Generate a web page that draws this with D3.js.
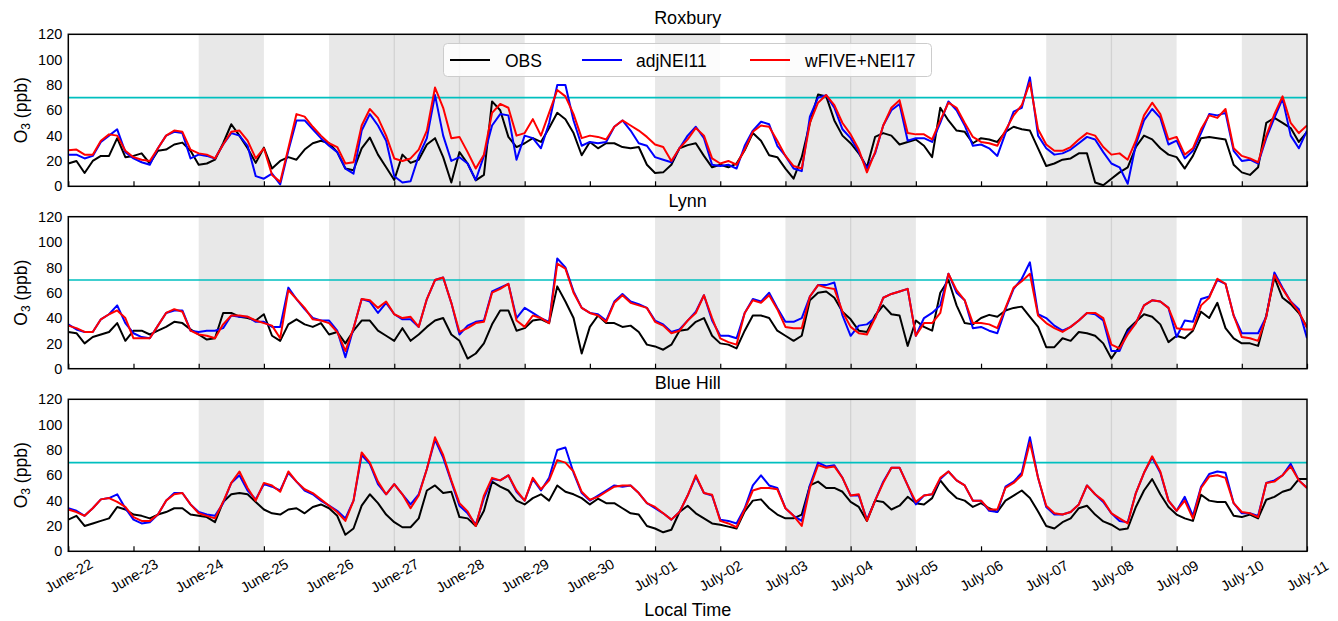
<!DOCTYPE html>
<html><head><meta charset="utf-8">
<script src="https://cdn.jsdelivr.net/npm/d3@7"></script>
<style>body{margin:0;background:#fff}svg{font-family:"Liberation Sans",Arial,Helvetica,sans-serif}</style>
</head><body>
<svg id="chart" width="1338" height="621"></svg>
<script>
// ---------- data (3-hourly values, starting June-22 00:00 local time) ----------
const dayLabels = ["June-22","June-23","June-24","June-25","June-26","June-27","June-28","June-29","June-30",
  "July-01","July-02","July-03","July-04","July-05","July-06","July-07","July-08","July-09","July-10","July-11"];
const shadedDays = [2,4,5,6,9,11,12,15,16,18];
const stepHours = 3;
const yTicks = [0,20,40,60,80,100,120];
const threshold = 70;
const siteNames = ["Roxbury","Lynn","Blue Hill"];
const seriesNames = ["OBS","adjNEI11","wFIVE+NEI17"];

const roxburyOBS = [18,20,10.5,20,24,24,38,23,24,26,18,28,29,33,34.5,28,17,18,21,34,49,40,30,18.5,30.5,14,20,23,21,29,34,36,34,27,14,12.7,30,38.5,25,15,5,25,18.5,21,33,38,23,3,27,
  18,4.7,9,67,60,39,31,34,38,35,46,58,53,42,24.5,35,30,34,34,31,30,31,17,10.5,11,17,30,32.5,34,24,15,17,15,18,28.5,42,36,24.5,23,14,6,23,50,72.5,71,52,40,34,26,15,39,42,40,33,
  35,37,32,23,62,52,44,43,34,38,37,35,43,47,45,44,30,16,18,21,22,26,26,3,0.8,6,11,15,31,40,37,30,25,23,14,24,38,39,38,37,17,11,9,15,50,54,50,46,35,43];
const roxburyAdj = [25,25,22,24,35,40,45,27,22,19,17,30,40,43,42,22,25,24,22,33,42,40,32,8,6,10,1.5,28,52,52,45,38,32,27,14,10,44,57,48,36,8,3,4,24,38,72,40,20,23,
  18,5,24,48,57,56,21,40,38,30,50,80,80,52,32,35,34,35,47,52,44,34,32,23,21,19,30,40,47,38,17,16,17,14,32,44,51,49,32,24,14,12,55,70,72,62,45,38,27,14,26,48,60,65,
  36,38,38,35,50,67,60,48,32,33,30,24,42,59,62,86,40,30,25,26,29,34,39,37,27,18,15,2,33,52,61,54,33,36,22,28,42,57,56,58,28,20,21,18,38,54,69,40,30,44];
const roxburyFive = [28.5,29,25,25,36,41,40,28,23,21,20,30,40,44,43,29,26,25,22,33,43,44,36,22,30,9,3.5,30,57,55,47,40,34,31,18,19,48,61,54,40,22,20,22,29,44,78,62,38,39,
  27,14,25,58,65,62,40,42,53,40,58,76,71,57,38,40,39,37,47,52,48,44,39,33,31,20,30,37,46,40,22,18,20,17,29,43,48,47,36,24,16,14,50,66,72,64,50,41,29,11,27,48,62,68,
  42,41,41,37,52,66,62,50,39,35,34,32,44,56,64,82,45,33,28,28,31,37,42,40,31,25,26,21,36,56,66,57,37,39,25,30,45,56,54,61,30,24,22,19,40,57,71,50,42,48];

const lynnOBS = [29,28,20,25,27,29,36,22,30,30,27,30,33,37,36,31,27,23,24,44,44,41,40,38,43,26,22,35,39,35,33,36,27,29,20,30,38,38,30,26,22,32,22,27,33,38,40,27,22,
  8,12,20,35,46,46,30,32,38,39,36,65,53,40,12,33,42,36,36,33,34,29,19,17.6,15,19,30,31,37,40,26,20,19,16,30,42,42,40,30,26,22,26,54,60,61,56,45,39,30,29,42,50,43,42,
  18,38,33,30,60,70,50,36,35,40,42.5,41,46,48,49,41,33,17,17,24,22,29,28,26,20,8,17.6,31,37,43,41,35,21,26,24,30,45,40,52,32,24,20,20,18,42,72,56,51,44,33];
const lynnAdj = [35,31,29,29,39,43,50,36,28,25,24,34,44,46,46,30,29,30,30,32,42,41,41,37,37,33,33,64,55,47,40,38,38,30,9,32,55,53,44,52,43,39,39,33,55,70,72,52,27,
  34,37,38,61,64,67,40,48,44,40,37,87,80,61,48,44,43,38,53,59,53,51,48,38,35,29,31,38,45,58,38,26,26,24,44,55,53,60,48,37,37,40,57,66,66,68,42,26,34,35,40,56,59,61,
  63,26,40,44,50,75,60,54,32,33,30,28,47,63,71,84,43,40,34,30,33,38,44,43,38,14,14,29,36,50,54,53,48,25,38,37,55,57,70,67,42,28,28,28,41,76,64,53,47,24];
const lynnFive = [34,32,29,29,39,43,46,40,24,24,24,34,44,47,45,30,27,26,24,35,42,42,41,38,36,34,24,62,55,48,39,38,36,29,14,32,55,54,48,53,43,40,41,33,55,70,72,52,29,
  32,36,37,60,63,67,38,33,42,40,36,83,79,60,48,44,42,37,52,58,52,50,48,37,34,28,30,38,44,58,40,24,21,19,44,54,52,58,47,33,32,32,57,66,64,63,45,33,28,27,40,56,59,61,
  63,26,36,36,44,75,62,54,36,36,35,32,48,64,69,75,42,36,32,29,33,38,44,44,40,19,16,27,36,50,54,53,48,32,31,31,50,56,71,67,42,25,24,22,41,74,63,53,45,32];

const blueHillOBS = [25,28,20,22,24,26,35,33,29,28,26,29,31,34,34,29,28,27,23,39,45,46,45,39,33,30,29,33,34,30,35,37,34,28,13,18,36,45,38,29,23,19,19,26,48,52,46,47,27,
  26,20,32,55,51,48,40,37,42,45,40,52,47,45,42,37,41.5,38,38,34,30,29,20,18,15,17,31,36,30,26,22,21,19.5,18,31.5,40,41,34,29,26,26,29,52,55,50,50,47,39,35,24,40,39,33,36,
  43,38,37,42,56,48,42,40,35,38,34,31,40,44,48,42,31.5,20,18,23,26,34,36,29,23.6,21,17,18,35,48,57,45,35,29,26,24,44.6,40,39,39,28,27,29,26,40.7,43,47,49,57,57];
const blueHillAdj = [34,32,28,34,41,42,45,34,25,22,23,29,40,46,46,37,31,29,28,38,54,60,48,41,53,51,48,62,55,48,45,40,36,32,26,40,76,69,53,45,53,45,37,45,65,88,74,55,36,
  30,21,42,57,56,60,47,40,57,48,58,80,82,62,46,40,44,48,52,51,52,46,38,34,30,25,31,44,59,46,44,25,24,22,34,52,60,52,50,34,28,24,52,70,67,68,58,44,44,25,40,55,66,66,
  52,37,44,45,57,63,56,52,40,40,32,31,51,55,62,90,58,35,29,29,31,37,52,45,39,30,24,23,46,62,74,62,40,32,43,28,51,61,63,62,38,30,30,28,54,56,60,69,56,50];
const blueHillFive = [33,31,28,34,41,42,39,35,27,24,24,29,40,45,46,37,30,28,26,39,54,63,50,40,54,52,47,63,55,49,46,41,36,31,24,40,78,70,55,45,53,45,34,44,65,90,76,56,38,
  31.5,20,44,58,56,60,48,40,58,49,56,72,70,63,47,40.7,43,47,51,52,52,46,38,35,30,25,31,44,60,46,44.6,24,22,19,33,48,50,50,49,34,28,20,50,68,66,67,58,44,45,24,40,54,66,66,
  52,39,44,45,58,63,56,52,40,40,33,33,50,54,60,86,58,36,30,29,31,37,52,45,40,30,26,22,46,62,75,63,40,32,40,26,50,59,60,58,38,31,30,27,54,55,60,67,56,50];

const siteSeries = [
  [roxburyOBS, roxburyAdj, roxburyFive],
  [lynnOBS, lynnAdj, lynnFive],
  [blueHillOBS, blueHillAdj, blueHillFive]
];
const seriesColors = ["#000000","#0000ff","#ff0000"];

// ---------- layout ----------
const svg = d3.select("#chart");
const left = 68.3, right = 1307;
const panelTops = [34.3, 216.7, 399.3];
const panelH = 152;
const nDays = dayLabels.length - 1;
const x = d3.scaleLinear().domain([0, nDays*24]).range([left, right]);

siteNames.forEach((name, pi) => {
  const top = panelTops[pi], bottom = top + panelH;
  const y = d3.scaleLinear().domain([0,120]).range([bottom, top]);
  const g = svg.append("g");
  const clipId = "clip" + pi;
  g.append("clipPath").attr("id", clipId).append("rect")
    .attr("x", left).attr("y", top).attr("width", right-left).attr("height", panelH);

  // shaded days
  g.selectAll("rect.band").data(shadedDays).join("rect").attr("class","band")
    .attr("x", d => x(d*24)).attr("y", top)
    .attr("width", d => x((d+1)*24) - x(d*24)).attr("height", panelH)
    .attr("fill", "#e8e8e8");
  g.selectAll("line.bedge").data(shadedDays.filter(d => shadedDays.includes(d-1))).join("line")
    .attr("x1", d => x(d*24)).attr("x2", d => x(d*24)).attr("y1", top).attr("y2", bottom)
    .attr("stroke", "#d2d2d2").attr("stroke-width", 1.3);

  // threshold line
  g.append("line").attr("x1", left).attr("x2", right)
    .attr("y1", y(threshold)).attr("y2", y(threshold))
    .attr("stroke", "#00bfbf").attr("stroke-width", 1.6);

  // series
  const line = d3.line().x((v,i) => x(i*stepHours)).y(v => y(v));
  siteSeries[pi].forEach((vals, si) => {
    g.append("path").datum(vals).attr("d", line)
      .attr("clip-path", `url(#${clipId})`)
      .attr("fill", "none").attr("stroke", seriesColors[si])
      .attr("stroke-width", 2).attr("stroke-linejoin", "round");
  });

  // frame
  g.append("rect").attr("x", left).attr("y", top).attr("width", right-left).attr("height", panelH)
    .attr("fill", "none").attr("stroke", "#000").attr("stroke-width", 1.5);

  // x ticks (inward)
  const xAxis = d3.axisBottom(x).tickValues(d3.range(0, nDays+1).map(d => d*24))
    .tickSize(-5).tickFormat(pi === 2 ? (d => dayLabels[d/24]) : "");
  const ax = g.append("g").attr("transform", `translate(0,${bottom})`).call(xAxis);
  ax.select(".domain").remove();
  ax.selectAll(".tick line").attr("stroke", "#000").attr("stroke-width", 1.2);
  ax.selectAll(".tick text")
    .attr("font-size", "14.5px").attr("fill", "#000")
    .attr("text-anchor", "middle").attr("dominant-baseline", "central")
    .attr("y", 0).attr("dy", 0)
    .attr("transform", "translate(0,24.5) rotate(-30)");

  // y tick labels
  const yAxis = d3.axisLeft(y).tickValues(yTicks).tickSize(0).tickPadding(6);
  const ay = g.append("g").attr("transform", `translate(${left},0)`).call(yAxis);
  ay.select(".domain").remove();
  ay.selectAll(".tick text").attr("font-size", "14.5px").attr("fill", "#000");

  // y label
  const yl = g.append("text").attr("transform", `translate(27,${top + panelH/2}) rotate(-90)`)
    .attr("text-anchor", "middle").attr("font-size", "17.5px").attr("fill", "#000");
  yl.append("tspan").text("O");
  yl.append("tspan").text("3").attr("font-size", "12px").attr("dy", 3);
  yl.append("tspan").text(" (ppb)").attr("dy", -3);

  // title
  g.append("text").attr("x", (left+right)/2).attr("y", top - 10)
    .attr("text-anchor", "middle").attr("font-size", "18px").attr("fill", "#000").text(name);
});

// legend (top panel)
const lg = svg.append("g");
lg.append("rect").attr("x", 443.5).attr("y", 43.5).attr("width", 488).attr("height", 33).attr("rx", 4)
  .attr("fill", "#fff").attr("fill-opacity", 0.85).attr("stroke", "#cccccc").attr("stroke-width", 1);
const legendPos = [[450, 505], [582, 636], [750, 805]];
seriesNames.forEach((n, i) => {
  lg.append("line").attr("x1", legendPos[i][0]).attr("x2", legendPos[i][0] + 40)
    .attr("y1", 60).attr("y2", 60).attr("stroke", seriesColors[i]).attr("stroke-width", 2);
  lg.append("text").attr("x", legendPos[i][1]).attr("y", 66.5).attr("font-size", "17.5px")
    .attr("fill", "#000").text(n);
});

// x label
svg.append("text").attr("x", (left+right)/2).attr("y", 616).attr("text-anchor", "middle")
  .attr("font-size", "18px").attr("fill", "#000").text("Local Time");
</script>
</body></html>
